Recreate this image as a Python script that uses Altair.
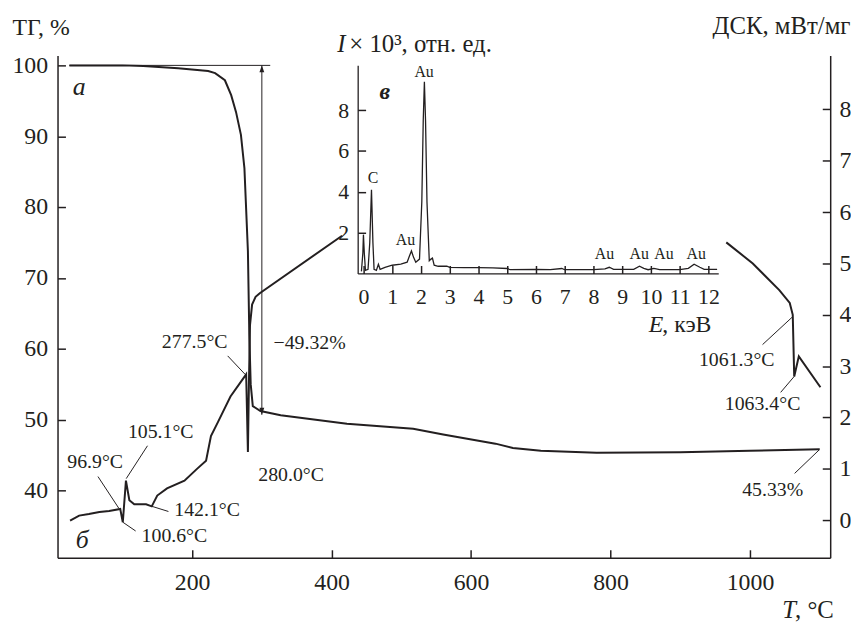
import altair as alt
import pandas as pd

FONT = "Liberation Serif, Times New Roman, serif"
INK = "#231f20"

# ---------------- data ----------------
# TG curve (T in degC, mass %)
tg_T = [24, 60, 100, 130, 180, 223, 233, 247, 256, 263, 270, 275, 277, 280, 282, 284, 287, 298, 327, 422, 517, 560, 635, 660, 700, 780, 900, 1000, 1100]
tg_pct = [100.0, 100.0, 100.0, 99.9, 99.6, 99.2, 98.9, 97.9, 95.8, 93.4, 90.2, 85.5, 80.8, 73.8, 62.0, 55.0, 51.9, 51.2, 50.6, 49.4, 48.7, 47.9, 46.6, 46.0, 45.6, 45.3, 45.4, 45.6, 45.8]

# DSC curve, two visible segments (mW/mg)
dsc1_T = [25, 38, 52, 67, 81, 96.9, 100.6, 105.1, 110, 117, 134, 142.1, 150, 164, 189, 207, 220, 227, 237, 255, 277.5, 280.0, 281.5, 283, 286, 291, 297, 415]
dsc1_v = [-0.01, 0.09, 0.12, 0.16, 0.18, 0.22, -0.04, 0.77, 0.39, 0.31, 0.31, 0.27, 0.48, 0.62, 0.77, 1.0, 1.16, 1.64, 1.91, 2.41, 2.84, 1.33, 2.7, 3.8, 4.2, 4.35, 4.42, 5.54]
dsc2_T = [966, 1004, 1042, 1057, 1061.3, 1063.4, 1070, 1101]
dsc2_v = [5.41, 5.0, 4.48, 4.23, 4.0, 2.8, 3.19, 2.59]

# EDX spectrum inset (keV, I x 10^3)
edx_E = [-0.07, -0.02, 0.0, 0.03, 0.07, 0.16, 0.22, 0.28, 0.33, 0.37, 0.45, 0.52, 0.58, 0.75, 1.0, 1.3, 1.52, 1.6, 1.67, 1.74, 1.82, 1.95, 2.03, 2.08, 2.12, 2.16, 2.21, 2.29, 2.35, 2.4, 2.46, 2.6, 2.9, 3.0, 3.5, 4.0, 4.5, 5.0, 5.1, 6.0, 6.5, 6.9, 7.0, 8.0, 8.4, 8.55, 8.7, 9.4, 9.6, 9.75, 9.9, 10.1, 10.3, 11.0, 11.3, 11.5, 11.7, 11.85, 12.3]
edx_I = [0.1, 1.0, 1.9, 1.0, 0.15, 0.2, 1.5, 4.1, 1.5, 0.2, 0.15, 0.45, 0.2, 0.3, 0.4, 0.45, 0.55, 0.85, 1.1, 0.8, 0.55, 0.7, 3.5, 7.5, 9.4, 7.5, 3.5, 0.62, 0.7, 0.75, 0.4, 0.35, 0.35, 0.3, 0.28, 0.28, 0.27, 0.24, 0.18, 0.2, 0.18, 0.24, 0.18, 0.18, 0.22, 0.3, 0.2, 0.2, 0.35, 0.25, 0.18, 0.25, 0.18, 0.18, 0.25, 0.45, 0.3, 0.2, 0.2]

# annotations
dsc_lab_text = ["96.9°C", "105.1°C", "142.1°C", "100.6°C", "277.5°C", "280.0°C", "1061.3°C", "1063.4°C"]
dsc_lab_T = [61, 155, 221.5, 174.6, 203.7, 342, 981, 1018]
dsc_lab_v = [1.14, 1.72, 0.19, -0.31, 3.46, 0.87, 3.11, 2.26]

dsc_lead_T1 = [65, 136, 142.5, 100.8, 251, 1018, 1044]
dsc_lead_v1 = [0.85, 1.45, 0.27, -0.04, 3.2, 3.42, 2.49]
dsc_lead_T2 = [95, 105.5, 166, 119, 276, 1061, 1063.4]
dsc_lead_v2 = [0.23, 0.81, 0.17, -0.21, 2.84, 3.96, 2.8]

tg_lab_text = ["−49.32%", "45.33%"]
tg_lab_T = [368.5, 1032.6]
tg_lab_v = [60.8, 40.0]
tg_lead = {"T1": [1064], "v1": [42.4], "T2": [1099], "v2": [45.7]}

tg_ref = {"T1": [24], "T2": [312], "v": [100.0]}
arrow = {"T": [300], "v1": [100.0], "v2": [50.68]}

edx_lab_text = ["C", "Au", "Au", "Au", "Au", "Au", "Au"]
edx_lab_E = [0.33, 2.11, 1.46, 8.38, 9.59, 10.45, 11.57]
edx_lab_I = [4.66, 9.87, 1.64, 0.97, 0.97, 0.97, 0.97]

letter_a = {"T": [38], "v": [96.9], "t": ["а"]}
letter_b = {"T": [42.5], "v": [-0.39], "t": ["б"]}
letter_v = {"E": [0.74], "I": [8.9], "t": ["в"]}

T_ticks = [200, 400, 600, 800, 1000]
TG_ticks = [40, 50, 60, 70, 80, 90, 100]
DSC_ticks = [0, 1, 2, 3, 4, 5, 6, 7, 8]
E_ticks = list(range(13))
I_ticks = [2, 4, 6, 8]

# ---------------- scales ----------------
W, H = 780, 507
xT = alt.Scale(domain=[7, 1115], nice=False, zero=False)
yTG = alt.Scale(domain=[30.5, 101.4], nice=False, zero=False)
yDSC = alt.Scale(domain=[-0.73, 9.05], nice=False, zero=False)
xE = alt.Scale(domain=[-0.2, 12.34], range=[303, 667], nice=False, zero=False)
yI = alt.Scale(domain=[0, 10.2], range=[220, 10], nice=False, zero=False)


def ax(**kw):
    base = dict(grid=False, labelFont=FONT, titleFont=FONT, labelColor=INK,
                titleColor=INK, domainColor=INK, tickColor=INK,
                titleFontWeight="normal", labelOverlap=False, labelFlush=False)
    base.update(kw)
    return alt.Axis(**base)


def lab_axis(orient, values, **kw):
    return ax(orient=orient, values=values, ticks=False, tickSize=0, format="d",
              titleAngle=0, titleBaseline="alphabetic", **kw)


def tick_axis(orient, values, offset, **kw):
    return ax(orient=orient, values=values, offset=offset, tickSize=8, tickWidth=1.5,
              labels=False, domain=False, titleAngle=0, titleBaseline="alphabetic", **kw)


# main TG line with labelled axes
tg_line = alt.Chart(pd.DataFrame({"T": tg_T, "v": tg_pct})).mark_line(color=INK, strokeWidth=2).encode(
    x=alt.X("T:Q", scale=xT, axis=lab_axis("bottom", T_ticks, labelFontSize=24, labelPadding=32,
                                           labelBaseline="alphabetic", domainWidth=1.5,
                                           title=", °C", titleFontSize=25, titleAlign="left",
                                           titleX=744, titleY=60)),
    y=alt.Y("v:Q", scale=yTG, axis=lab_axis("left", TG_ticks, labelFontSize=24, labelPadding=10,
                                           domainWidth=1.5, title="ТГ, %", titleFontSize=24,
                                           titleAlign="left", titleX=-46, titleY=-21)),
)

tg_ref_rule = alt.Chart(pd.DataFrame(tg_ref)).mark_rule(color=INK, strokeWidth=1).encode(
    x=alt.X("T1:Q", scale=xT, axis=None), x2="T2:Q",
    y=alt.Y("v:Q", scale=yTG, axis=None),
)

arrow_rule = alt.Chart(pd.DataFrame(arrow)).mark_rule(color=INK, strokeWidth=1).encode(
    x=alt.X("T:Q", scale=xT, axis=None),
    y=alt.Y("v1:Q", scale=yTG, axis=None), y2="v2:Q",
)
arrow_up = alt.Chart(pd.DataFrame(arrow)).mark_point(
    shape="M0,0L0.7,2L-0.7,2Z", filled=True, size=49, color=INK, opacity=1).encode(
    x=alt.X("T:Q", scale=xT, axis=None),
    y=alt.Y("v1:Q", scale=yTG, axis=None),
)
arrow_dn = alt.Chart(pd.DataFrame(arrow)).mark_point(
    shape="M0,0L0.7,-2L-0.7,-2Z", filled=True, size=49, color=INK, opacity=1).encode(
    x=alt.X("T:Q", scale=xT, axis=None),
    y=alt.Y("v2:Q", scale=yTG, axis=None),
)

# TG texts carry the inward tick axes of the main x and left y
tg_texts = alt.Chart(pd.DataFrame({"T": tg_lab_T, "v": tg_lab_v, "t": tg_lab_text})).mark_text(
    font=FONT, fontSize=20, color=INK, align="center", baseline="middle").encode(
    x=alt.X("T:Q", scale=xT, axis=tick_axis("bottom", T_ticks, -8, title="T", titleFontSize=25,
                                            titleFontStyle="italic", titleAlign="right",
                                            titleX=745, titleY=68)),
    y=alt.Y("v:Q", scale=yTG, axis=tick_axis("left", TG_ticks, -8), title=None),
    text="t:N",
)
tg_lead_rule = alt.Chart(pd.DataFrame(tg_lead)).mark_rule(color=INK, strokeWidth=1).encode(
    x=alt.X("T1:Q", scale=xT, axis=None), x2="T2:Q",
    y=alt.Y("v1:Q", scale=yTG, axis=None), y2="v2:Q",
)
a_text = alt.Chart(pd.DataFrame(letter_a)).mark_text(
    font=FONT, fontSize=26, fontStyle="italic", color=INK, align="center", baseline="middle").encode(
    x=alt.X("T:Q", scale=xT, axis=None), y=alt.Y("v:Q", scale=yTG, axis=None), text="t:N")

# DSC
dsc_df = pd.DataFrame({
    "T": dsc1_T + dsc2_T,
    "v": dsc1_v + dsc2_v,
    "seg": ["a"] * len(dsc1_T) + ["b"] * len(dsc2_T),
})
dsc_line = alt.Chart(dsc_df).mark_line(color=INK, strokeWidth=2).encode(
    x=alt.X("T:Q", scale=xT, axis=None),
    y=alt.Y("v:Q", scale=yDSC, axis=lab_axis("right", DSC_ticks, labelFontSize=24, labelPadding=9,
                                            domainWidth=1.5, title="ДСК, мВт/мг", titleFontSize=25,
                                            titleAlign="right", titleX=20, titleY=-22)),
    detail="seg:N",
)
dsc_texts = alt.Chart(pd.DataFrame({"T": dsc_lab_T, "v": dsc_lab_v, "t": dsc_lab_text})).mark_text(
    font=FONT, fontSize=20, color=INK, align="center", baseline="middle").encode(
    x=alt.X("T:Q", scale=xT, axis=None),
    y=alt.Y("v:Q", scale=yDSC, axis=tick_axis("right", DSC_ticks, -8), title=None),
    text="t:N",
)
dsc_leads = alt.Chart(pd.DataFrame({"T1": dsc_lead_T1, "v1": dsc_lead_v1,
                                    "T2": dsc_lead_T2, "v2": dsc_lead_v2})).mark_rule(
    color=INK, strokeWidth=1).encode(
    x=alt.X("T1:Q", scale=xT, axis=None), x2="T2:Q",
    y=alt.Y("v1:Q", scale=yDSC, axis=None), y2="v2:Q",
)
b_text = alt.Chart(pd.DataFrame(letter_b)).mark_text(
    font=FONT, fontSize=26, fontStyle="italic", color=INK, align="center", baseline="middle").encode(
    x=alt.X("T:Q", scale=xT, axis=None), y=alt.Y("v:Q", scale=yDSC, axis=None), text="t:N")

# EDX inset
edx_line = alt.Chart(pd.DataFrame({"E": edx_E, "I": edx_I})).mark_line(color=INK, strokeWidth=1.3).encode(
    x=alt.X("E:Q", scale=xE, axis=lab_axis("bottom", E_ticks, offset=-287, labelFontSize=22,
                                          labelPadding=30, labelBaseline="alphabetic",
                                          domainWidth=1.3, title=", кэВ", titleFontSize=24,
                                          titleAlign="left", titleX=610, titleY=59)),
    y=alt.Y("I:Q", scale=yI, axis=lab_axis("left", I_ticks, offset=-303, labelFontSize=22,
                                          labelPadding=9, domainWidth=1.3,
                                          title="× 10³, отн. ед.", titleFontSize=25,
                                          titleAlign="left", titleX=-9, titleY=-4)),
)
edx_texts = alt.Chart(pd.DataFrame({"E": edx_lab_E, "I": edx_lab_I, "t": edx_lab_text})).mark_text(
    font=FONT, fontSize=16, color=INK, align="center", baseline="middle").encode(
    x=alt.X("E:Q", scale=xE, axis=tick_axis("bottom", E_ticks, -295, title="E", titleFontSize=24,
                                           titleFontStyle="italic", titleAlign="right",
                                           titleX=611, titleY=67)),
    y=alt.Y("I:Q", scale=yI, axis=tick_axis("left", I_ticks, -311, title="I", titleFontSize=25,
                                           titleFontStyle="italic", titleAlign="left",
                                           titleX=-29, titleY=-4)),
    text="t:N",
)
v_text = alt.Chart(pd.DataFrame(letter_v)).mark_text(
    font=FONT, fontSize=24, fontStyle="italic", fontWeight="bold", color=INK, align="center",
    baseline="middle").encode(
    x=alt.X("E:Q", scale=xE, axis=None), y=alt.Y("I:Q", scale=yI, axis=None), text="t:N")

chart = alt.layer(
    tg_line, tg_ref_rule, arrow_rule, arrow_up, arrow_dn, tg_texts, tg_lead_rule, a_text,
    dsc_line, dsc_texts, dsc_leads, b_text,
    edx_line, edx_texts, v_text,
).resolve_scale(x="independent", y="independent").resolve_axis(
    x="independent", y="independent"
).properties(
    width=W, height=H,
    padding={"left": 50, "top": 45, "right": 21, "bottom": 63},
    autosize=alt.AutoSizeParams(type="none"),
).configure_view(strokeWidth=0)

chart.save("out.html", embed_options={"renderer": "svg", "actions": False})
